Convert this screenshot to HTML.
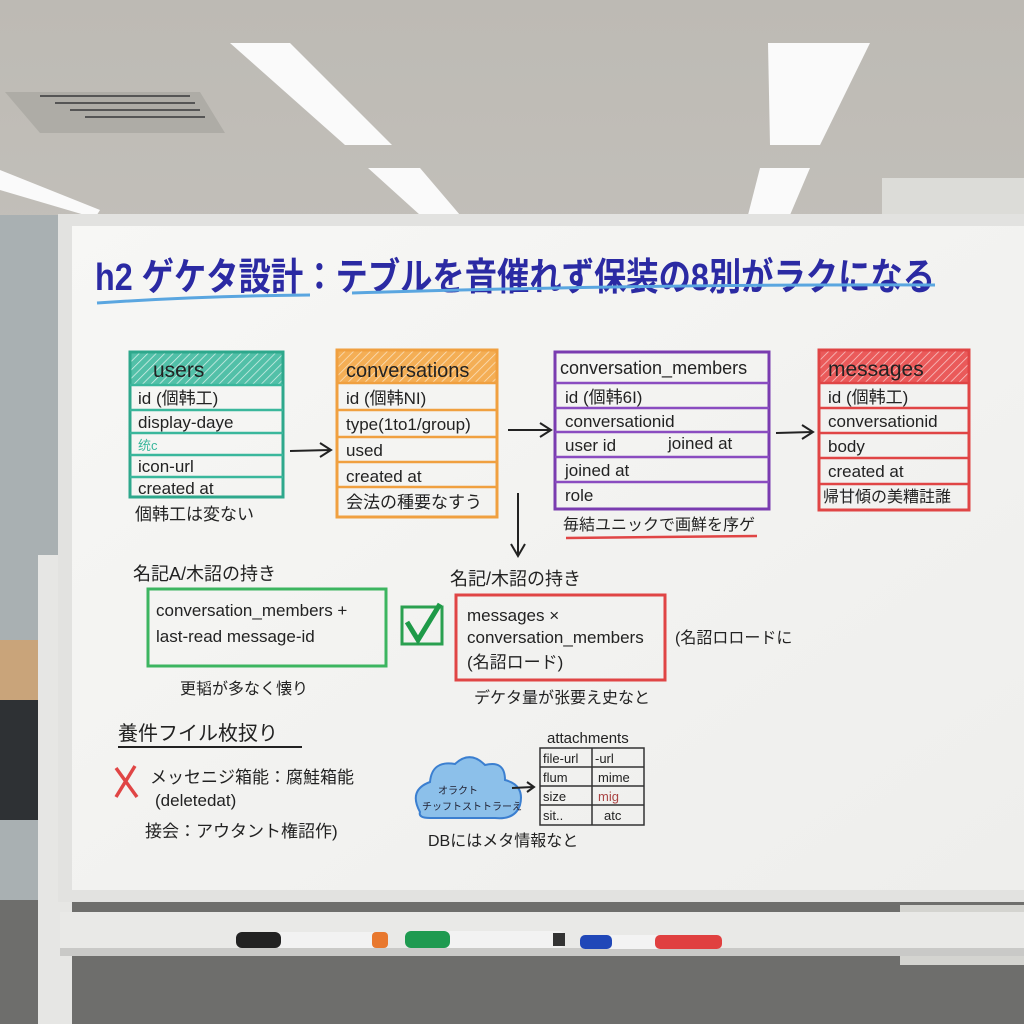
<!DOCTYPE html>
<html><head><meta charset="utf-8"><style>
html,body{margin:0;padding:0;width:1024px;height:1024px;overflow:hidden;background:#c8c6c1}
svg{display:block}
text{font-family:"Liberation Sans","Noto Sans CJK JP",sans-serif}
</style></head><body>
<svg width="1024" height="1024" viewBox="0 0 1024 1024" xmlns="http://www.w3.org/2000/svg">
<defs>
<linearGradient id="ceil" x1="0" y1="0" x2="0" y2="1"><stop offset="0" stop-color="#bdbab4"/><stop offset="1" stop-color="#d2d0cb"/></linearGradient>
<linearGradient id="board" x1="0" y1="0" x2="1" y2="1"><stop offset="0" stop-color="#f7f7f5"/><stop offset="1" stop-color="#eeeeec"/></linearGradient>
<pattern id="hT" width="6" height="6" patternUnits="userSpaceOnUse" patternTransform="rotate(45)"><rect width="6" height="6" fill="#52c0a8"/><line x1="0" y1="0" x2="0" y2="6" stroke="#d8f0ea" stroke-width="1.5"/></pattern>
<pattern id="hO" width="6" height="6" patternUnits="userSpaceOnUse" patternTransform="rotate(45)"><rect width="6" height="6" fill="#f4ae55"/><line x1="0" y1="0" x2="0" y2="6" stroke="#fbe2c0" stroke-width="1.5"/></pattern>
<pattern id="hR" width="6" height="6" patternUnits="userSpaceOnUse" patternTransform="rotate(45)"><rect width="6" height="6" fill="#ea5a5a"/><line x1="0" y1="0" x2="0" y2="6" stroke="#f8caca" stroke-width="1.5"/></pattern>
</defs>
<!-- ceiling -->
<rect width="1024" height="1024" fill="url(#ceil)"/>
<polygon points="5,92 200,92 225,133 40,133" fill="#aeaca6"/>
<g stroke="#555" stroke-width="2"><line x1="40" y1="96" x2="190" y2="96"/><line x1="55" y1="103" x2="195" y2="103"/><line x1="70" y1="110" x2="200" y2="110"/><line x1="85" y1="117" x2="205" y2="117"/></g>
<polygon points="230,43 290,43 392,145 345,145" fill="#fafafa"/>
<polygon points="768,43 825,43 800,145 770,145" fill="#fafafa"/>
<polygon points="800,43 870,43 820,145 795,145" fill="#fafafa"/>
<polygon points="368,168 420,168 460,215 420,215" fill="#fafafa"/>
<polygon points="760,168 810,168 790,215 748,215" fill="#fafafa"/>
<polygon points="0,170 100,210 95,218 0,190" fill="#fafafa"/>
<rect x="882" y="178" width="142" height="40" fill="#dcdcd8"/>
<!-- left wall / office -->
<rect x="0" y="215" width="62" height="690" fill="#a9b0b2"/>
<rect x="0" y="640" width="45" height="60" fill="#c9a47a"/>
<rect x="0" y="700" width="40" height="120" fill="#2e3134"/>
<!-- floor -->
<rect x="0" y="900" width="1024" height="124" fill="#6e6e6c"/>
<rect x="900" y="905" width="124" height="60" fill="#d4d4d0"/>
<!-- stand -->
<rect x="38" y="555" width="34" height="469" fill="#e6e6e4"/>
<!-- board -->
<rect x="58" y="214" width="966" height="688" fill="#e2e2e0"/>
<rect x="72" y="226" width="952" height="664" fill="url(#board)"/>
<!-- tray -->
<rect x="60" y="912" width="964" height="42" fill="#e9e9e7"/>
<rect x="60" y="948" width="964" height="8" fill="#c9c9c7"/>
<rect x="236" y="932" width="145" height="16" rx="6" fill="#f2f2f2"/><rect x="236" y="932" width="45" height="16" rx="6" fill="#222"/><rect x="372" y="932" width="16" height="16" rx="4" fill="#e8782e"/>
<rect x="405" y="931" width="160" height="17" rx="6" fill="#f2f2f2"/><rect x="405" y="931" width="45" height="17" rx="6" fill="#1e9a50"/><rect x="553" y="933" width="12" height="13" fill="#333"/>
<rect x="580" y="935" width="142" height="14" rx="5" fill="#f3f3f3"/><rect x="580" y="935" width="32" height="14" rx="5" fill="#2047b8"/><rect x="655" y="935" width="67" height="14" rx="5" fill="#e04040"/>

<!-- title -->
<text x="95" y="290" font-size="38" font-weight="bold" fill="#2b2aa3" textLength="840" lengthAdjust="spacingAndGlyphs">h2 ゲケタ設計：テブルを音催れず保装の8別がラクになる</text>
<path d="M97 303 Q200 296 310 295" stroke="#5aa6e0" stroke-width="3" fill="none"/>
<path d="M352 293 Q650 284 935 285" stroke="#5aa6e0" stroke-width="3" fill="none"/>

<g font-size="17" fill="#222">
<!-- users -->
<rect x="130" y="352" width="153" height="33" fill="url(#hT)"/>
<rect x="130" y="352" width="153" height="145" fill="none" stroke="#2ea88c" stroke-width="3"/>
<g stroke="#3ab79c" stroke-width="2.5"><line x1="130" y1="385" x2="283" y2="385"/><line x1="130" y1="410" x2="283" y2="410"/><line x1="130" y1="433" x2="283" y2="433"/><line x1="130" y1="455" x2="283" y2="455"/><line x1="130" y1="477" x2="283" y2="477"/></g>
<text x="153" y="377" font-size="21">users</text>
<text x="138" y="404">id  (個韩工)</text>
<text x="138" y="428">display-daye</text>
<text x="138" y="450" fill="#3ab79c" font-size="13">统c</text>
<text x="138" y="472">icon-url</text>
<text x="138" y="494">created at</text>
<text x="135" y="520">個韩工は変ない</text>
<!-- conversations -->
<rect x="337" y="350" width="160" height="33" fill="url(#hO)"/>
<rect x="337" y="350" width="160" height="167" fill="none" stroke="#f0a040" stroke-width="3"/>
<g stroke="#f0a040" stroke-width="2.5"><line x1="337" y1="383" x2="497" y2="383"/><line x1="337" y1="410" x2="497" y2="410"/><line x1="337" y1="437" x2="497" y2="437"/><line x1="337" y1="462" x2="497" y2="462"/><line x1="337" y1="487" x2="497" y2="487"/></g>
<text x="346" y="377" font-size="20">conversations</text>
<text x="346" y="404">id  (個韩NI)</text>
<text x="346" y="430">type(1to1/group)</text>
<text x="346" y="456">used</text>
<text x="346" y="482">created at</text>
<text x="346" y="508">会法の種要なすう</text>
<!-- conversation_members -->
<rect x="555" y="352" width="214" height="157" fill="none" stroke="#7a3cb0" stroke-width="3"/>
<g stroke="#8a4cc0" stroke-width="2.5"><line x1="555" y1="383" x2="769" y2="383"/><line x1="555" y1="408" x2="769" y2="408"/><line x1="555" y1="432" x2="769" y2="432"/><line x1="555" y1="457" x2="769" y2="457"/><line x1="555" y1="482" x2="769" y2="482"/></g>
<text x="560" y="374" font-size="18">conversation_members</text>
<text x="565" y="403">id    (個韩6I)</text>
<text x="565" y="427">conversationid</text>
<text x="565" y="451">user id</text><text x="668" y="449">joined at</text>
<text x="565" y="476">joined at</text>
<text x="565" y="501">role</text>
<text x="563" y="530" font-size="16">毎結ユニックで画鮮を序ゲ</text>
<line x1="566" y1="538" x2="757" y2="536" stroke="#e04545" stroke-width="2.5"/>
<!-- messages -->
<rect x="819" y="350" width="150" height="33" fill="url(#hR)"/>
<rect x="819" y="350" width="150" height="160" fill="none" stroke="#e04545" stroke-width="3"/>
<g stroke="#e04545" stroke-width="2.5"><line x1="819" y1="383" x2="969" y2="383"/><line x1="819" y1="408" x2="969" y2="408"/><line x1="819" y1="433" x2="969" y2="433"/><line x1="819" y1="458" x2="969" y2="458"/><line x1="819" y1="484" x2="969" y2="484"/></g>
<text x="828" y="376" font-size="21">messages</text>
<text x="828" y="403">id  (個韩工)</text>
<text x="828" y="427">conversationid</text>
<text x="828" y="452">body</text>
<text x="828" y="477">created at</text>
<text x="823" y="502" font-size="16">帰甘傾の美糟註誰</text>
</g>
<!-- arrows -->
<g stroke="#222" stroke-width="2" fill="none">
<path d="M290 451 L330 450 M320 443 L331 450 L320 457"/>
<path d="M508 430 L550 430 M540 423 L551 430 L540 437"/>
<path d="M776 433 L812 432 M802 425 L813 432 L802 439"/>
<path d="M518 493 L518 555 M511 544 L518 556 L525 544"/>
</g>

<g font-size="17" fill="#222">
<text x="133" y="580" font-size="18">名記A/木詔の持き</text>
<rect x="148" y="589" width="238" height="77" fill="none" stroke="#3cb560" stroke-width="3"/>
<text x="156" y="616">conversation_members +</text>
<text x="156" y="642">last-read message-id</text>
<rect x="402" y="607" width="40" height="37" fill="none" stroke="#2aa050" stroke-width="3"/>
<path d="M407 622 L418 640 L440 604" stroke="#1e9a48" stroke-width="5" fill="none"/>
<text x="180" y="694" font-size="16">更韬が多なく懐り</text>

<text x="450" y="585" font-size="18">名記/木詔の持き</text>
<rect x="456" y="595" width="209" height="85" fill="none" stroke="#e04545" stroke-width="3"/>
<text x="467" y="621">messages  ×</text>
<text x="467" y="643">conversation_members</text>
<text x="467" y="668">(名詔ロード)</text>
<text x="675" y="643" font-size="16">(名詔ロロードに</text>
<text x="474" y="703" font-size="16">デケタ量が张要え史なと</text>

<text x="118" y="740" font-size="20">養件フイル枚扠り</text>
<line x1="118" y1="747" x2="302" y2="747" stroke="#222" stroke-width="2"/>
<path d="M116 797 L135 766 M116 768 L137 797" stroke="#e04545" stroke-width="3.5" fill="none"/>
<text x="150" y="783">メッセニジ箱能：腐鮭箱能</text>
<text x="155" y="806">(deletedat)</text>
<text x="145" y="837">接会：アウタント権詔作)</text>

<text x="547" y="743" font-size="15">attachments</text>
<g stroke="#333" stroke-width="1.5" fill="none"><rect x="540" y="748" width="104" height="77"/><line x1="592" y1="748" x2="592" y2="825"/><line x1="540" y1="767" x2="644" y2="767"/><line x1="540" y1="786" x2="644" y2="786"/><line x1="540" y1="805" x2="644" y2="805"/></g>
<g font-size="13"><text x="543" y="763">file-url</text><text x="595" y="763">-url</text><text x="543" y="782">flum</text><text x="598" y="782">mime</text><text x="543" y="801">size</text><text x="598" y="801" fill="#a44">mig</text><text x="543" y="820">sit..</text><text x="604" y="820">atc</text></g>
<path d="M420 812 Q408 790 430 782 Q432 760 455 764 Q470 750 485 765 Q505 760 505 780 Q525 785 520 805 Q515 820 495 818 L430 818 Q418 818 420 812 Z" fill="#8cc0ea" stroke="#3b7fd0" stroke-width="2"/>
<text x="438" y="794" font-size="10" fill="#223">オラクト</text>
<text x="422" y="810" font-size="10" fill="#223">チッフトストトラーえ</text>
<path d="M512 788 L533 787 M527 782 L534 787 L527 792" stroke="#222" stroke-width="2" fill="none"/>
<text x="428" y="846" font-size="16">DBにはメタ情報なと</text>
</g>
</svg>
</body></html>
